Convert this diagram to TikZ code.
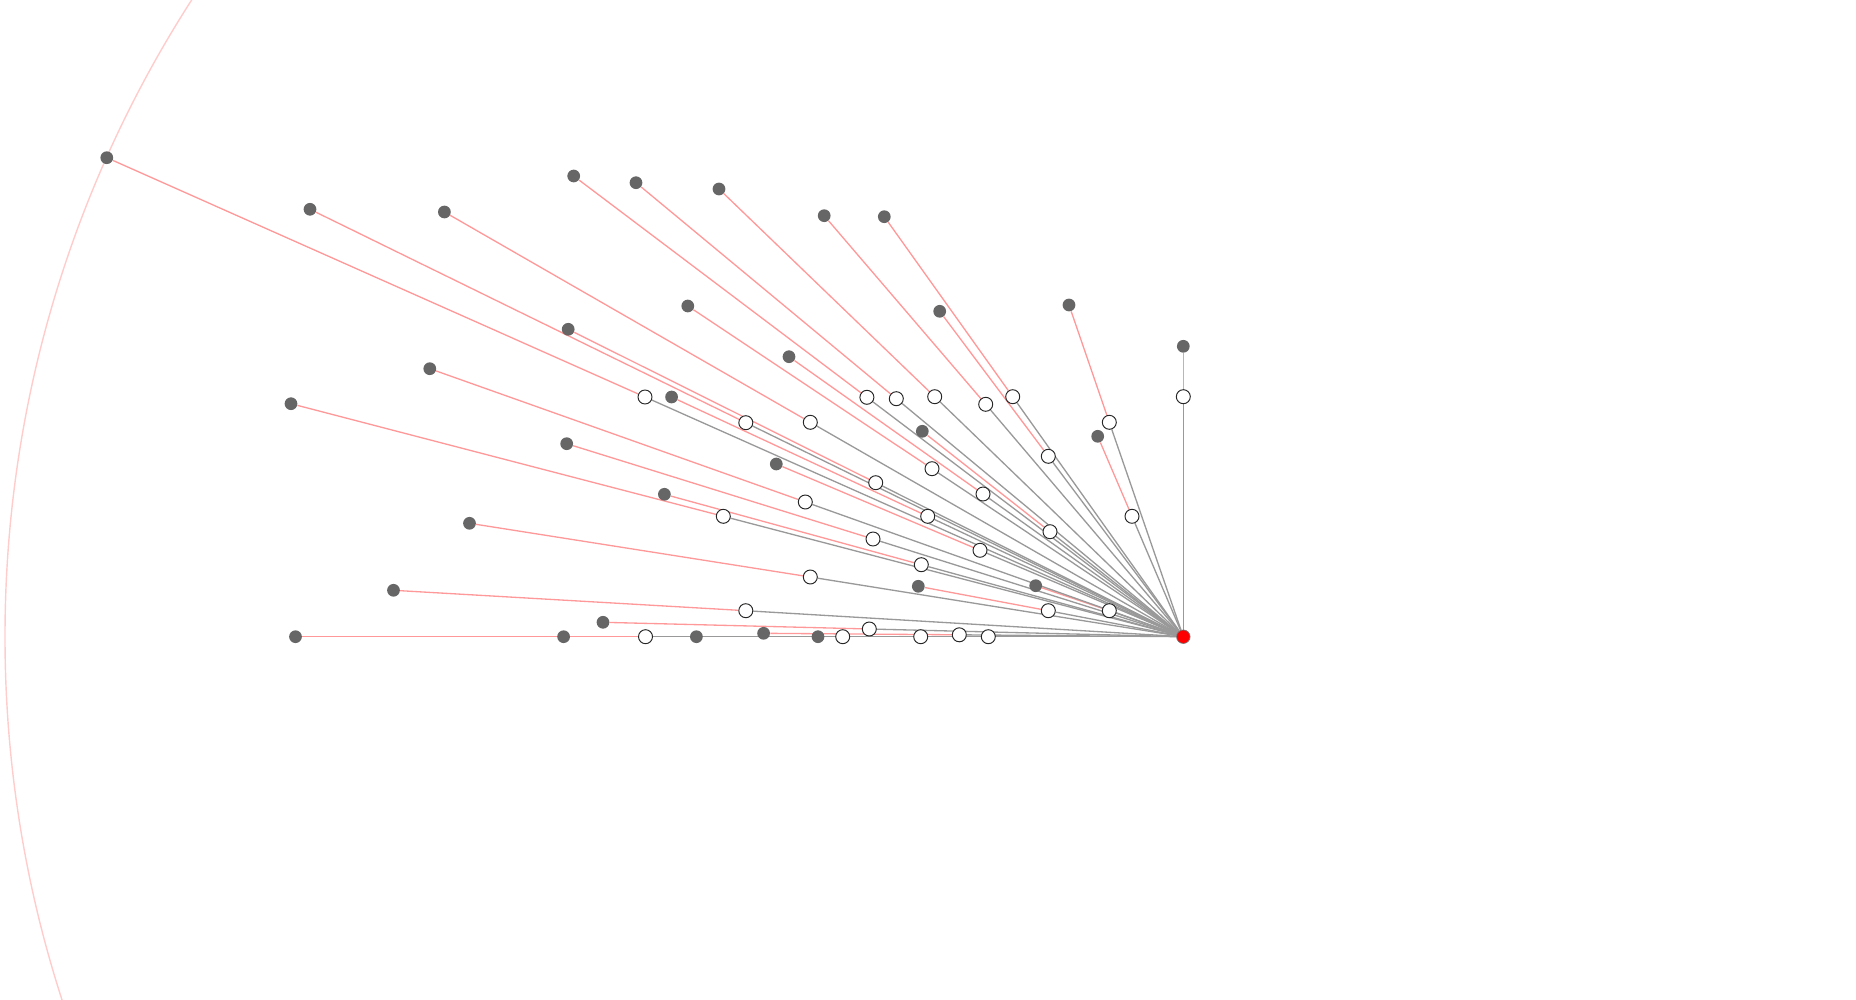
\documentclass[tikz,border=0pt]{standalone}
\usetikzlibrary{backgrounds}

\definecolor{leafgray}{HTML}{666666}
\definecolor{linkred}{HTML}{FF9999}
\definecolor{linkgray}{HTML}{999999}
\definecolor{ringred}{HTML}{FFCCCC}

\begin{document}
\begin{tikzpicture}[x=0.02cm, y=-0.02cm,
    rootnode/.style={circle, fill=red, draw=black!55, line width=0.4pt, inner sep=0pt, minimum size=0.27cm},
    midnode/.style={circle, fill=white, draw=black!85, line width=0.55pt, inner sep=0pt, minimum size=0.28cm},
    leafnode/.style={circle, fill=leafgray, inner sep=0pt, minimum size=0.255cm},
    redlink/.style={draw=linkred, line width=0.75pt},
    graylink/.style={draw=linkgray, line width=0.75pt}]
    \useasboundingbox (0,0) rectangle (1856,1000);

    % Root
    \node[rootnode] (root) at (1183.3,636.7) {};

    % First ring (white)
    \foreach \n/\x/\y in {1/645.0/397.0, 2/745.8/422.7, 3/810.3/422.3, 4/866.9/397.3,
        5/896.3/398.7, 6/934.7/396.7, 7/985.7/404.3, 8/1012.7/396.7,
        9/1048.3/456.3, 10/1109.3/422.3, 11/1183.3/396.7, 12/875.7/482.7,
        13/932.0/468.7, 14/983.0/494.0, 15/1050.0/531.7, 16/1132.0/516.3,
        17/805.3/502.0, 18/723.3/516.3, 19/927.7/516.3, 20/873.0/539.0,
        21/980.0/550.3, 22/921.3/564.7, 23/810.3/577.0, 24/1048.3/610.7,
        25/1109.3/610.7, 26/745.8/610.7, 27/869.3/629.0, 28/645.5/636.7,
        29/842.7/636.7, 30/920.7/636.7, 31/959.3/634.8, 32/988.3/636.7}
        \node[midnode] (w\n) at (\x,\y) {};

    % Second ring (leaves)
    \foreach \n/\x/\y in {1/106.8/157.7, 2/310.0/209.3, 3/444.4/212.0, 4/573.7/176.0,
        5/636.0/182.7, 6/719.0/189.0, 7/824.2/215.7, 8/884.3/216.7,
        9/939.7/311.3, 10/1069.0/305.0, 11/1183.3/346.3, 12/568.2/329.3,
        13/687.8/306.0, 14/789.0/356.7, 15/922.3/431.3, 16/1097.7/436.3,
        17/429.8/368.7, 18/291.0/403.7, 19/671.6/397.0, 20/566.7/443.7,
        21/776.3/464.0, 22/664.4/494.3, 23/469.5/523.3, 24/918.3/586.3,
        25/1035.7/585.7, 26/393.5/590.3, 27/603.0/622.3, 28/295.5/636.7,
        29/563.6/636.7, 30/696.4/636.7, 31/763.6/633.3, 32/818.0/636.7}
        \node[leafnode] (d\n) at (\x,\y) {};

    \begin{pgfonlayer}{background}
        % Outer ring
        \begin{scope}
            \clip (0,0) rectangle (1856,1000);
            \draw[ringred, line width=0.8pt] (root.center) circle[radius=1178.3];
        \end{scope}
        % Links
        \foreach \n in {1,...,32} \draw[redlink] (d\n) -- (w\n);
        \foreach \n in {1,...,32} \draw[graylink] (root) -- (w\n);
    \end{pgfonlayer}
\end{tikzpicture}
\end{document}
